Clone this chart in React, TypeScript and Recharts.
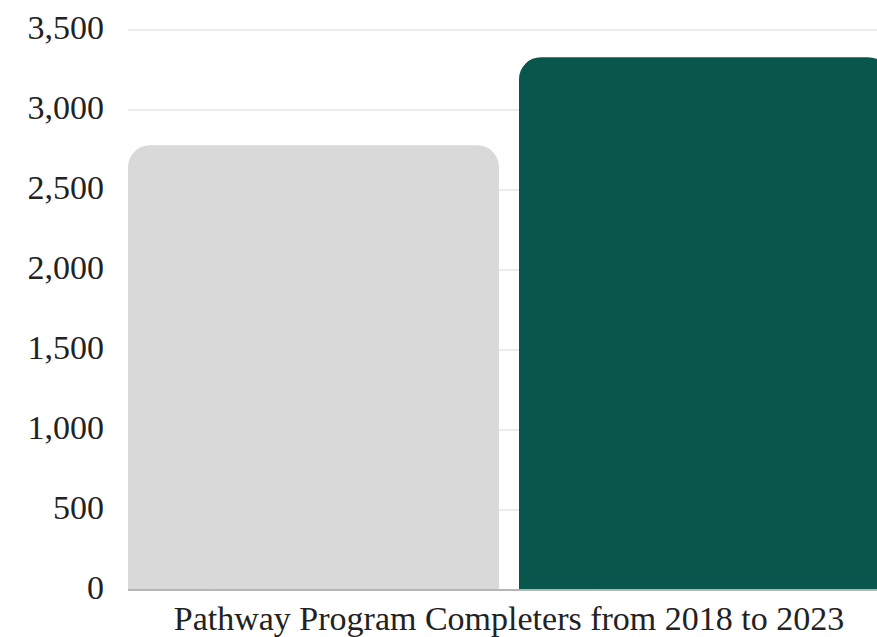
import React from "react";
import { BarChart, Bar, XAxis, YAxis, CartesianGrid } from "recharts";

const categories = ["Pathway Program Completers from 2018 to 2023"];
const seriesA = [2780];
const seriesB = [3330];
const yTicks = [0, 500, 1000, 1500, 2000, 2500, 3000, 3500];

const data = categories.map((c, i) => ({ name: c, a: seriesA[i], b: seriesB[i] }));

const fmt = (v: number) => v.toLocaleString("en-US");

export default function App() {
  return (
    <div style={{ position: "fixed", left: 0, top: 0, width: 877, height: 637, overflow: "hidden", background: "#fff" }}>
      <BarChart
        width={900}
        height={637}
        data={data}
        margin={{ top: 30, right: 10, left: 0, bottom: 0 }}
        barCategoryGap={0}
        barGap={20}
      >
        <CartesianGrid vertical={false} stroke="#d8d8d8" strokeWidth={1} />
        <XAxis
          dataKey="name"
          height={47}
          axisLine={{ stroke: "#b5b5b5", strokeWidth: 2 }}
          tickLine={false}
          tickMargin={10}
          tick={{ fill: "#222", fontSize: 34, fontFamily: "Liberation Serif" }}
        />
        <YAxis
          width={128}
          domain={[0, 3500]}
          ticks={yTicks}
          tickFormatter={fmt}
          axisLine={false}
          tickLine={false}
          tickMargin={18}
          tick={{ fill: "#222", fontSize: 34, fontFamily: "Liberation Serif", dy: -3 }}
        />
        <Bar dataKey="a" fill="#d9d9d9" radius={[22, 22, 0, 0]} isAnimationActive={false} />
        <Bar dataKey="b" fill="#08564c" radius={[22, 22, 0, 0]} isAnimationActive={false} />
      </BarChart>
    </div>
  );
}
